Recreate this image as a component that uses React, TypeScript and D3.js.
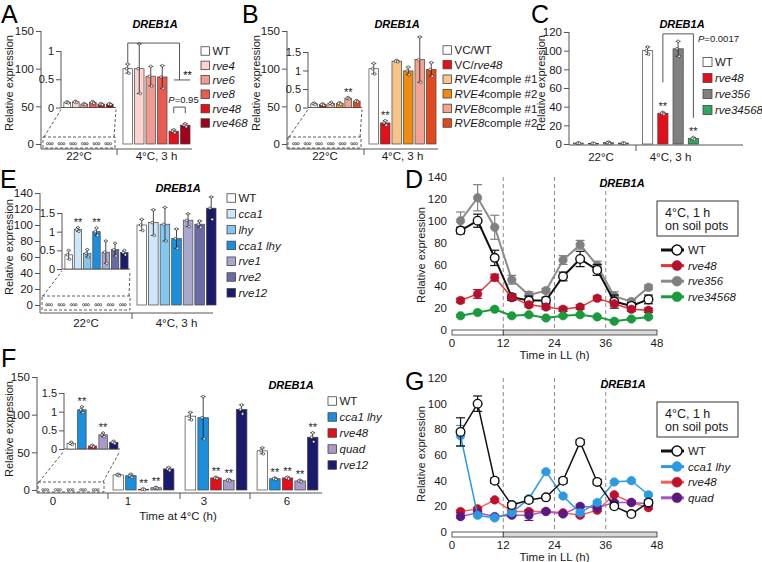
import React, { useEffect, useRef } from 'react';
import * as d3 from 'd3';

// ---------- bar panels ----------
const tempGroups = ['22°C', '4°C, 3 h'];

const aGenotypes = ['WT', 'rve4', 'rve6', 'rve8', 'rve48', 'rve468'];
const aWarm = [0.09, 0.10, 0.06, 0.09, 0.06, 0.06];
const aWarmErr = [0.01, 0.01, 0.01, 0.015, 0.01, 0.01];
const aCold = [100, 100, 90, 89, 17, 25];
const aColdErr = [6, 33, 13, 15, 2, 2];

const bGenotypes = ['VC/WT', 'VC/rve48', 'RVE4comple #1', 'RVE4comple #2', 'RVE8comple #1', 'RVE8comple #2'];
const bWarm = [0.10, 0.08, 0.11, 0.11, 0.25, 0.17];
const bWarmErr = [0.02, 0.02, 0.03, 0.02, 0.02, 0.02];
const bWarmSig = ['', '', '', '', '**', ''];
const bCold = [100, 28, 110, 97, 112, 99];
const bColdErr = [7, 3, 1, 5, 30, 9];
const bColdSig = ['', '**', '', '', '', ''];

const cGenotypes = ['WT', 'rve48', 'rve356', 'rve34568'];
const cWarm = [1, 0.6, 1.4, 1];
const cWarmErr = [0.3, 0.2, 0.8, 0.3];
const cCold = [100, 33, 102, 6];
const cColdErr = [4, 1, 8, 1];
const cColdSig = ['', '**', '', '**'];

const eGenotypes = ['WT', 'cca1', 'lhy', 'cca1 lhy', 'rve1', 'rve2', 'rve12'];
const eWarm = [0.38, 1.06, 0.42, 1.0, 0.45, 0.52, 0.44];
const eWarmErr = [0.12, 0.05, 0.1, 0.1, 0.3, 0.17, 0.06];
const eWarmSig = ['', '**', '', '**', '', '', ''];
const eCold = [100, 103, 101, 83, 106, 101, 121];
const eColdErr = [7, 16, 21, 12, 8, 4, 14];

const fGenotypes = ['WT', 'cca1 lhy', 'rve48', 'quad', 'rve12'];
const fTimes = ['0', '1', '3', '6'];
const f0h = [0.15, 1.05, 0.08, 0.38, 0.18];
const f0hErr = [0.03, 0.08, 0.02, 0.05, 0.03];
const f0hSig = ['', '**', '', '**', ''];
const f1h = [20, 19, 1, 3, 28];
const f1hErr = [1, 2, 0.5, 0.5, 2];
const f1hSig = ['', '', '**', '**', ''];
const f3h = [98, 96, 16, 13, 107];
const f3hErr = [5, 28, 1, 1, 6];
const f3hSig = ['', '', '**', '**', ''];
const f6h = [52, 15, 16, 12, 70];
const f6hErr = [4, 1, 1, 1, 6];
const f6hSig = ['', '**', '**', '**', '**'];

// ---------- time courses ----------
const llHours = [2, 6, 10, 14, 18, 22, 26, 30, 34, 38, 42, 46];
const llTicks = [0, 12, 24, 36, 48];

const dWT = [91, 100, 66, 30, 27, 27, 49, 65, 55, 26, 22, 28];
const dWTErr = [3, 6, 7, 3, 4, 3, 4, 7, 5, 6, 3, 4];
const dRve48 = [27, 33, 48, 30, 23, 21, 19, 21, 29, 24, 19, 18];
const dRve48Err = [2, 4, 3, 2, 2, 2, 2, 2, 2, 2, 2, 2];
const dRve356 = [100, 121, 94, 46, 32, 36, 64, 78, 59, 31, 26, 39];
const dRve356Err = [8, 12, 11, 4, 3, 2, 4, 4, 4, 4, 2, 2];
const dRve34568 = [13, 16, 19, 13, 14, 11, 13, 14, 12, 8, 10, 12];
const dRve34568Err = [1, 1, 1, 1, 1, 1, 1, 1, 1, 1, 1, 1];

const gWT = [78, 100, 40, 21, 25, 27, 40, 70, 39, 20, 14, 23];
const gWTErr = [11, 6, 2, 2, 2, 1, 2, 2, 2, 1, 1, 2];
const gCca1Lhy = [75, 13, 11, 15, 26, 47, 28, 15, 23, 39, 40, 29];
const gCca1LhyErr = [8, 1, 1, 1, 1, 1, 1, 1, 1, 1, 1, 1];
const gRve48 = [16, 18, 25, 16, 16, 16, 15, 13, 17, 29, 23, 19];
const gRve48Err = [1, 1, 1, 1, 1, 1, 1, 1, 1, 1, 1, 1];
const gQuad = [12, 15, 12, 13, 13, 16, 14, 20, 19, 23, 23, 22];
const gQuadErr = [1, 1, 1, 1, 4, 1, 1, 1, 1, 1, 1, 1];

// colours
const aColors = ['#ffffff', '#fbd3cf', '#f19a92', '#e85a50', '#e3101b', '#a4001c'];
const bColors = ['#ffffff', '#e3101b', '#f9c48a', '#ef8b0e', '#f3a391', '#e24a1b'];
const cColors = ['#ffffff', '#e3101b', '#808080', '#2ea65c'];
const eColors = ['#ffffff', '#cde7f8', '#84c7ee', '#1b8fdc', '#a8a8cf', '#6a6aa6', '#1b1b6e'];
const fColors = ['#ffffff', '#1b8fdc', '#e3101b', '#a99ac9', '#1b1b6e'];

const FONT = '"Liberation Sans", Arial, Helvetica, sans-serif';
const INK = '#1a1a1a';
const AXIS = '#555';
const GENE = /(rve\d+|RVE\d|cca1|lhy|quad)/;
const GENE_ONLY = /^(rve\d+|RVE\d|cca1|lhy|quad)$/;

function richLabel(sel: any, s: string) {
  s.split(GENE).filter(t => t.length).forEach(t => {
    sel.append('tspan').attr('font-style', GENE_ONLY.test(t) ? 'italic' : null).text(t);
  });
}

function errorBars(g: any, xs: number[], y: any, vals: number[], errs: number[], cap: number, dots = true) {
  const eg = g.append('g').attr('stroke', INK).attr('stroke-width', 0.8).attr('fill', 'none');
  vals.forEach((v, i) => {
    const c = xs[i];
    const hi = y(v + errs[i]);
    const lo = y(Math.max(0, v - errs[i]));
    eg.append('line').attr('x1', c).attr('x2', c).attr('y1', lo).attr('y2', hi);
    [hi, lo].forEach(yy => eg.append('line').attr('x1', c - cap).attr('x2', c + cap).attr('y1', yy).attr('y2', yy));
    if (dots) {
      [[0, hi], [-1.2, y(v)], [1, lo]].forEach(([dx, yy]) =>
        eg.append('circle').attr('cx', c + dx).attr('cy', yy).attr('r', 1.3).attr('fill', '#fff').attr('stroke-width', 0.6));
    }
  });
}

function stars(g: any, xs: number[], y: any, vals: number[], errs: number[], sig?: string[]) {
  if (!sig) return;
  sig.forEach((s, i) => {
    if (!s) return;
    g.append('text').attr('x', xs[i]).attr('y', y(vals[i] + errs[i]) - 2).attr('text-anchor', 'middle')
      .attr('font-size', 11).attr('fill', INK).text(s);
  });
}

function leftAxis(g: any, y: any, x: number, ticks: number[], size: number, fmt: any) {
  const ya = g.append('g').attr('transform', `translate(${x},0)`)
    .call(d3.axisLeft(y).tickValues(ticks).tickSize(5).tickPadding(2).tickFormat(fmt));
  ya.select('.domain').remove();
  ya.attr('font-family', FONT).attr('font-size', size);
  ya.selectAll('line').attr('stroke', AXIS);
  ya.selectAll('text').attr('fill', INK);
}

function common(g: any, p: any) {
  g.append('text').attr('x', p.letter[1]).attr('y', p.letter[2]).attr('font-size', 25).attr('fill', '#000').text(p.letter[0]);
  g.append('text').attr('x', p.title[0]).attr('y', p.title[1]).attr('text-anchor', 'middle')
    .attr('font-size', 11).attr('font-weight', 'bold').attr('font-style', 'italic').attr('fill', '#000').text('DREB1A');
  g.append('text').attr('transform', `translate(${p.ylabel[0]},${p.ylabel[1]}) rotate(-90)`)
    .attr('text-anchor', 'middle').attr('font-size', 11).attr('fill', INK).text('Relative expression');
}

function barPanel(svg: any, p: any) {
  const g = svg.append('g');
  const y = d3.scaleLinear().domain([0, p.yMax]).range([p.y0, p.yTop]);

  g.append('line').attr('x1', p.x).attr('x2', p.x).attr('y1', p.yTop).attr('y2', p.axisY).attr('stroke', AXIS);
  leftAxis(g, y, p.x, p.ticks, 11.5, d3.format('d'));
  g.append('line').attr('x1', p.x).attr('x2', p.axisEnd).attr('y1', p.axisY).attr('y2', p.axisY).attr('stroke', AXIS);
  p.dividers.forEach((d: number) =>
    g.append('line').attr('x1', d).attr('x2', d).attr('y1', p.axisY).attr('y2', p.axisY + 6).attr('stroke', AXIS));

  const groups = p.groups.map((gr: any) => {
    const xb = d3.scaleBand<number>().domain(d3.range(gr.values.length)).range(gr.band)
      .paddingInner(p.pad).paddingOuter(p.pad / 2);
    const cx = gr.values.map((_: number, i: number) => (xb(i) as number) + xb.bandwidth() / 2);
    if (gr.tiny) {
      gr.values.forEach((_: number, i: number) => [-2.4, 0, 2.4].forEach(dx =>
        g.append('circle').attr('cx', cx[i] + dx).attr('cy', p.y0 - 0.3).attr('r', 1.1)
          .attr('fill', '#fff').attr('stroke', INK).attr('stroke-width', 0.6)));
    } else {
      g.append('g').selectAll('rect').data(gr.values).join('rect')
        .attr('x', (_: number, i: number) => xb(i)).attr('y', (d: number) => y(d))
        .attr('width', xb.bandwidth()).attr('height', (d: number) => p.y0 - y(d))
        .attr('fill', (_: number, i: number) => p.colors[i]).attr('stroke', '#444').attr('stroke-width', 0.7);
      errorBars(g, cx, y, gr.values, gr.errs, 2.5);
      stars(g, cx, y, gr.values, gr.errs, gr.sig);
    }
    const lx = gr.labelX ?? (gr.band[0] + gr.band[1]) / 2;
    g.append('text').attr('x', lx).attr('y', p.labelY).attr('text-anchor', 'middle')
      .attr('font-size', 11.5).attr('fill', INK).text(gr.label);
    return { xb, cx };
  });

  if (p.xTitle) {
    g.append('text').attr('x', p.xTitle[0]).attr('y', p.xTitle[1]).attr('text-anchor', 'middle')
      .attr('font-size', 11.5).attr('fill', INK).text(p.xTitle[2]);
  }

  const s = p.inset;
  if (s) {
    const yi = d3.scaleLinear().domain([0, s.max]).range([s.y0, s.yTop]);
    g.append('line').attr('x1', s.x).attr('x2', s.x).attr('y1', s.yTop).attr('y2', s.y0).attr('stroke', AXIS);
    leftAxis(g, yi, s.x, s.ticks, 11, d3.format('~g'));
    g.append('line').attr('x1', s.x).attr('x2', s.end).attr('y1', s.y0).attr('y2', s.y0).attr('stroke', AXIS);
    const xb = d3.scaleBand<number>().domain(d3.range(s.values.length)).range(s.band).paddingInner(0.2).paddingOuter(0.1);
    const cx = s.values.map((_: number, i: number) => (xb(i) as number) + xb.bandwidth() / 2);
    g.append('g').selectAll('rect').data(s.values).join('rect')
      .attr('x', (_: number, i: number) => xb(i)).attr('y', (d: number) => yi(d))
      .attr('width', xb.bandwidth()).attr('height', (d: number) => s.y0 - yi(d))
      .attr('fill', (_: number, i: number) => p.colors[i]).attr('stroke', '#444').attr('stroke-width', 0.7);
    errorBars(g, cx, yi, s.values, s.errs, 2);
    stars(g, cx, yi, s.values, s.errs, s.sig);

    const [bx0, by0, bx1, by1] = s.box;
    const dash = g.append('g').attr('fill', 'none').attr('stroke', '#333').attr('stroke-width', 0.8).attr('stroke-dasharray', '3,2');
    dash.append('rect').attr('x', bx0).attr('y', by0).attr('width', bx1 - bx0).attr('height', by1 - by0);
    dash.append('line').attr('x1', bx0 + 1).attr('y1', by0).attr('x2', s.x).attr('y2', s.y0 + 2);
    dash.append('line').attr('x1', bx1 - 1).attr('y1', by0).attr('x2', s.end).attr('y2', s.y0 + 2);
  }

  const L = p.legend;
  p.labels.forEach((l: string, i: number) => {
    const yy = L.y + i * L.step;
    g.append('rect').attr('x', L.x).attr('y', yy - L.box / 2).attr('width', L.box).attr('height', L.box)
      .attr('fill', p.colors[i]).attr('stroke', '#444').attr('stroke-width', 0.8);
    richLabel(g.append('text').attr('x', L.x + L.box + 3).attr('y', yy).attr('dy', '0.36em')
      .attr('font-size', 11.5).attr('fill', INK), l);
  });

  common(g, p);
  return { g, y, groups };
}

function linePanel(svg: any, p: any) {
  const g = svg.append('g');
  const x = d3.scaleLinear().domain([0, 48]).range([452, 657]);
  const y = d3.scaleLinear().domain([0, p.yMax]).range([p.y0, p.yTop]);

  [12, 24, 36].forEach(h => g.append('line').attr('x1', x(h)).attr('x2', x(h)).attr('y1', p.yTop).attr('y2', p.y0)
    .attr('stroke', '#8a8a8a').attr('stroke-width', 1).attr('stroke-dasharray', '4,3'));

  g.append('rect').attr('x', x(0)).attr('y', p.y0).attr('width', x(12) - x(0)).attr('height', 5)
    .attr('fill', '#fff').attr('stroke', '#333').attr('stroke-width', 0.8);
  g.append('rect').attr('x', x(12)).attr('y', p.y0).attr('width', x(48) - x(12)).attr('height', 5)
    .attr('fill', '#d9d9d9').attr('stroke', '#333').attr('stroke-width', 0.8);

  p.ticks.forEach((t: number) => g.append('text').attr('x', 447).attr('y', y(t)).attr('dy', '0.36em')
    .attr('text-anchor', 'end').attr('font-size', 11.5).attr('fill', INK).text(t));
  llTicks.forEach(t => g.append('text').attr('x', x(t)).attr('y', p.y0 + 17).attr('text-anchor', 'middle')
    .attr('font-size', 11.5).attr('fill', INK).text(t));
  g.append('text').attr('x', x(24)).attr('y', p.y0 + 29).attr('text-anchor', 'middle')
    .attr('font-size', 11.5).attr('fill', INK).text('Time in LL (h)');

  const line = d3.line<number>().x((_, i) => x(llHours[i])).y(d => y(d));
  p.series.forEach((s: any) => {
    g.append('path').attr('d', line(s.values)).attr('fill', 'none').attr('stroke', s.line).attr('stroke-width', s.width);
    const eg = g.append('g').attr('stroke', s.stroke).attr('stroke-width', 1.2);
    s.values.forEach((v: number, i: number) => {
      const c = x(llHours[i]);
      const hi = y(v + s.errs[i]), lo = y(v - s.errs[i]);
      eg.append('line').attr('x1', c).attr('x2', c).attr('y1', lo).attr('y2', hi);
      [hi, lo].forEach(yy => eg.append('line').attr('x1', c - 4.5).attr('x2', c + 4.5).attr('y1', yy).attr('y2', yy));
    });
    g.append('g').selectAll('circle').data(s.values).join('circle')
      .attr('cx', (_: number, i: number) => x(llHours[i])).attr('cy', (d: number) => y(d)).attr('r', 4.3)
      .attr('fill', s.fill).attr('stroke', s.stroke).attr('stroke-width', s.open ? 1.4 : 0.5);
  });

  const B = p.box;
  g.append('rect').attr('x', 657).attr('y', B[0]).attr('width', 81).attr('height', B[1] - B[0])
    .attr('fill', '#fff').attr('stroke', '#333').attr('stroke-width', 1);
  g.append('text').attr('x', 665).attr('y', B[0] + 16).attr('font-size', 12.5).attr('fill', INK).text('4°C, 1 h');
  g.append('text').attr('x', 665).attr('y', B[0] + 29).attr('font-size', 12.5).attr('fill', INK).text('on soil pots');

  p.legendOrder.forEach((k: number, i: number) => {
    const s = p.series[k];
    const yy = p.legendY + i * 15.6;
    g.append('line').attr('x1', 661).attr('x2', 684).attr('y1', yy).attr('y2', yy).attr('stroke', s.line).attr('stroke-width', 3);
    g.append('circle').attr('cx', 677).attr('cy', yy).attr('r', 5).attr('fill', s.fill).attr('stroke', s.stroke)
      .attr('stroke-width', s.open ? 1.6 : 0.5);
    richLabel(g.append('text').attr('x', 688).attr('y', yy).attr('dy', '0.36em').attr('font-size', 11.5).attr('fill', INK), s.name);
  });

  common(g, p);
}

export default function App() {
  const ref = useRef<SVGSVGElement>(null);

  useEffect(() => {
    const svg = d3.select(ref.current);
    svg.selectAll('*').remove();
    svg.attr('font-family', FONT);

    // ----- A -----
    const ra = barPanel(svg, {
      x: 41, y0: 144, yTop: 31, yMax: 150, ticks: [0, 50, 100, 150], axisY: 149, axisEnd: 192,
      dividers: [117], labelY: 160, pad: 0.17, colors: aColors, labels: aGenotypes,
      groups: [
        { label: tempGroups[0], band: [44, 114], values: aWarm, errs: aWarmErr, tiny: true },
        { label: tempGroups[1], band: [122, 191], values: aCold, errs: aColdErr },
      ],
      inset: { x: 61, y0: 107.5, yTop: 51, max: 1, ticks: [0, 0.5, 1], end: 116, band: [63, 114],
        values: aWarm, errs: aWarmErr, box: [43, 137, 115, 148] },
      legend: { x: 201, y: 51, step: 14.4, box: 8.5 },
      title: [155, 28], letter: ['A', 1, 23], ylabel: [13, 83],
    });
    {
      const c = ra.groups[1].cx, y = ra.y, g = ra.g;
      const xr = (c[4] + c[5]) / 2;
      g.append('path').attr('d', `M${c[0]},${y(108)}V${y(134)}H${xr}V${y(85)}M${c[4]},${y(85)}H${c[5] + 5}`)
        .attr('fill', 'none').attr('stroke', '#444').attr('stroke-width', 0.9);
      g.append('text').attr('x', xr + 8).attr('y', y(85) - 1).attr('text-anchor', 'middle').attr('font-size', 11).text('**');
      g.append('path').attr('d', `M${c[4]},${y(41)}V${y(49)}H${c[5]}V${y(41)}`)
        .attr('fill', 'none').attr('stroke', '#444').attr('stroke-width', 0.9);
      const t = g.append('text').attr('x', xr + 4).attr('y', y(55)).attr('text-anchor', 'middle').attr('font-size', 9.5).attr('fill', INK);
      t.append('tspan').attr('font-style', 'italic').text('P');
      t.append('tspan').text('=0.95');
    }

    // ----- B -----
    barPanel(svg, {
      x: 287, y0: 144, yTop: 31, yMax: 150, ticks: [0, 50, 100, 150], axisY: 149, axisEnd: 438,
      dividers: [364], labelY: 160, pad: 0.17, colors: bColors, labels: bGenotypes,
      groups: [
        { label: tempGroups[0], band: [290, 360], values: bWarm, errs: bWarmErr, tiny: true },
        { label: tempGroups[1], band: [368, 437], values: bCold, errs: bColdErr, sig: bColdSig },
      ],
      inset: { x: 308, y0: 107.5, yTop: 52, max: 1.5, ticks: [0, 0.5, 1, 1.5], end: 362, band: [310, 361],
        values: bWarm, errs: bWarmErr, sig: bWarmSig, box: [288, 137, 361, 148] },
      legend: { x: 443, y: 50, step: 14.6, box: 8.5 },
      title: [397, 28], letter: ['B', 242, 23], ylabel: [260, 83],
    });

    // ----- C -----
    const rc = barPanel(svg, {
      x: 569, y0: 144, yTop: 32, yMax: 120, ticks: d3.range(0, 121, 20), axisY: 145, axisEnd: 743,
      dividers: [636], labelY: 161, pad: 0.33, colors: cColors, labels: cGenotypes,
      groups: [
        { label: tempGroups[0], band: [571, 631], values: cWarm, errs: cWarmErr },
        { label: tempGroups[1], band: [640, 701], values: cCold, errs: cColdErr, sig: cColdSig },
      ],
      legend: { x: 703, y: 62, step: 16, box: 9 },
      title: [682, 28], letter: ['C', 531, 23], ylabel: [545, 83],
    });
    {
      const c = rc.groups[1].cx, y = rc.y, g = rc.g;
      g.append('path').attr('d', `M${c[1]},${y(66)}V${y(118)}H${c[3]}V${y(28)}`)
        .attr('fill', 'none').attr('stroke', '#444').attr('stroke-width', 0.9);
      const t = g.append('text').attr('x', 698).attr('y', 42).attr('font-size', 9.5).attr('fill', INK);
      t.append('tspan').attr('font-style', 'italic').text('P');
      t.append('tspan').text('=0.0017');
    }

    // ----- E -----
    barPanel(svg, {
      x: 40, y0: 305, yTop: 193, yMax: 140, ticks: d3.range(0, 141, 20), axisY: 313, axisEnd: 213,
      dividers: [132], labelY: 327, pad: 0.17, colors: eColors, labels: eGenotypes,
      groups: [
        { label: tempGroups[0], band: [43, 129], values: eWarm, errs: eWarmErr, tiny: true },
        { label: tempGroups[1], band: [136, 217], values: eCold, errs: eColdErr },
      ],
      inset: { x: 62, y0: 269, yTop: 213, max: 1.5, ticks: [0, 0.5, 1, 1.5], end: 130, band: [64, 129],
        values: eWarm, errs: eWarmErr, sig: eWarmSig, box: [42, 296, 130, 310] },
      legend: { x: 227, y: 198, step: 15.8, box: 8.5 },
      title: [178, 192], letter: ['E', 0, 188], ylabel: [13, 247],
    });

    // ----- F -----
    barPanel(svg, {
      x: 37, y0: 490, yTop: 377, yMax: 150, ticks: [0, 50, 100, 150], axisY: 493, axisEnd: 322,
      dividers: [108, 180, 250], labelY: 505, pad: 0.17, colors: fColors, labels: fGenotypes,
      groups: [
        { label: fTimes[0], band: [39, 102], values: f0h, errs: f0hErr, tiny: true, labelX: 53 },
        { label: fTimes[1], band: [112, 175], values: f1h, errs: f1hErr, sig: f1hSig, labelX: 128 },
        { label: fTimes[2], band: [184, 248], values: f3h, errs: f3hErr, sig: f3hSig, labelX: 204 },
        { label: fTimes[3], band: [256, 319], values: f6h, errs: f6hErr, sig: f6hSig, labelX: 287 },
      ],
      xTitle: [178, 520, 'Time at 4°C (h)'],
      inset: { x: 64, y0: 449, yTop: 393, max: 1.5, ticks: [0, 0.5, 1, 1.5], end: 120, band: [66, 119],
        values: f0h, errs: f0hErr, sig: f0hSig, box: [38, 482, 104, 492] },
      legend: { x: 328, y: 401, step: 16, box: 8.5 },
      title: [291, 389], letter: ['F', 1, 367], ylabel: [13, 429],
    });

    // ----- D -----
    linePanel(svg, {
      y0: 330, yTop: 177, yMax: 140, ticks: d3.range(0, 141, 20), box: [201, 236], legendY: 250,
      series: [
        { name: 'rve356', values: dRve356, errs: dRve356Err, line: '#8c8c8c', fill: '#808080', stroke: '#808080', width: 2 },
        { name: 'WT', values: dWT, errs: dWTErr, line: '#111', fill: '#fff', stroke: '#111', width: 2, open: true },
        { name: 'rve48', values: dRve48, errs: dRve48Err, line: '#e8352e', fill: '#b3112c', stroke: '#b3112c', width: 1.5 },
        { name: 'rve34568', values: dRve34568, errs: dRve34568Err, line: '#1c9a3e', fill: '#1a9a3c', stroke: '#1a9a3c', width: 2 },
      ],
      legendOrder: [1, 2, 0, 3],
      title: [622, 187], letter: ['D', 405, 188], ylabel: [425, 255],
    });

    // ----- G -----
    linePanel(svg, {
      y0: 532, yTop: 378, yMax: 120, ticks: d3.range(0, 121, 20), box: [402, 437], legendY: 451,
      series: [
        { name: 'rve48', values: gRve48, errs: gRve48Err, line: '#f0625a', fill: '#c0102c', stroke: '#c0102c', width: 1.5 },
        { name: 'quad', values: gQuad, errs: gQuadErr, line: '#a855c8', fill: '#5b1a82', stroke: '#5b1a82', width: 1.5 },
        { name: 'cca1 lhy', values: gCca1Lhy, errs: gCca1LhyErr, line: '#2c9ae2', fill: '#2c9ae2', stroke: '#2c9ae2', width: 1.5 },
        { name: 'WT', values: gWT, errs: gWTErr, line: '#111', fill: '#fff', stroke: '#111', width: 1.5, open: true },
      ],
      legendOrder: [3, 2, 0, 1],
      title: [623, 388], letter: ['G', 405, 390], ylabel: [425, 454],
    });
  }, []);

  return (
    <svg ref={ref} width={762} height={562}
      style={{ position: 'absolute', left: 0, top: 0, background: '#fff' }} />
  );
}
